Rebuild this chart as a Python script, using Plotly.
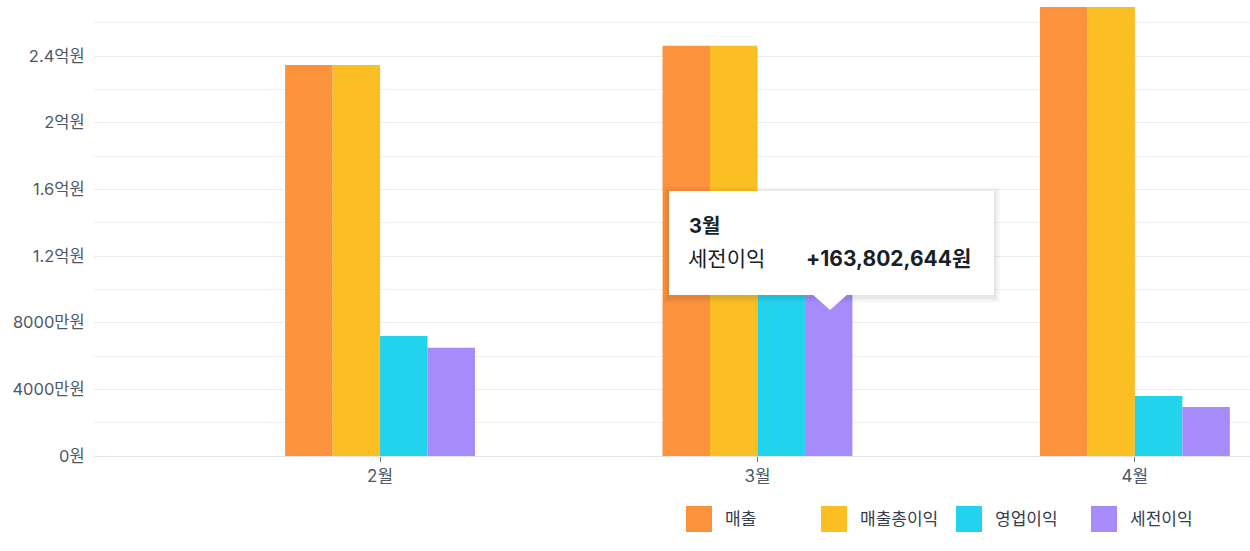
import plotly.graph_objects as go

# ---- data ----
months = ["2월", "3월", "4월"]
series_names = ["매출", "매출총이익", "영업이익", "세전이익"]
sales = [234_600_000, 246_200_000, 269_400_000]
gross_profit = [234_600_000, 246_200_000, 269_400_000]
operating_profit = [72_000_000, 155_000_000, 36_000_000]
pretax_profit = [65_000_000, 150_000_000, 29_400_000]
series_values = [sales, gross_profit, operating_profit, pretax_profit]
colors = ["#FB923C", "#FBBF24", "#22D3EE", "#A78BFA"]
ytick_vals = [0, 40_000_000, 80_000_000, 120_000_000, 160_000_000, 200_000_000, 240_000_000]
ytick_text = ["0원", "4000만원", "8000만원", "1.2억원", "1.6억원", "2억원", "2.4억원"]
tooltip_month = "3월"
tooltip_series = "세전이익"
tooltip_value = 163_802_644

W, H = 1250, 551
ML, MR, MT, MB = 94, 0, 0, 95
PW, PH = W - ML - MR, H - MT - MB


def px(x):
    return (x - ML) / PW


def py(y):
    return (H - MB - y) / PH


FONT = "Inter, Noto Sans CJK KR, Noto Sans, sans-serif"

fig = go.Figure()
for name, vals, col in zip(series_names, series_values, colors):
    fig.add_trace(go.Bar(
        x=months, y=vals, name=name,
        marker=dict(color=col, line=dict(width=0)),
        showlegend=False, hoverinfo="skip",
    ))

shapes = []
annotations = []

# custom legend
for i, (name, col) in enumerate(zip(series_names, colors)):
    x0 = 686 + i * 135
    shapes.append(dict(type="rect", xref="paper", yref="paper",
                       x0=px(x0), x1=px(x0 + 26), y0=py(532), y1=py(506),
                       fillcolor=col, line=dict(width=0), layer="above"))
    annotations.append(dict(xref="paper", yref="paper", x=px(x0 + 37), y=py(519),
                            text=name, showarrow=False, xanchor="left", yanchor="middle",
                            font=dict(family=FONT, size=17, color="#333D4B")))

# tooltip
bx0, bx1, by0, by1 = 669, 994, 191, 295
for k, a in enumerate([0.025, 0.03, 0.04]):
    d = 6 - k * 2
    shapes.append(dict(type="rect", xref="paper", yref="paper",
                       x0=px(bx0 - d), x1=px(bx1 + d), y0=py(by1 + d + 2), y1=py(by0 - d + 2),
                       fillcolor=f"rgba(0,0,0,{a})", line=dict(width=0), layer="above"))
shapes.append(dict(type="rect", xref="paper", yref="paper",
                   x0=px(bx0), x1=px(bx1), y0=py(by1), y1=py(by0),
                   fillcolor="white", line=dict(width=0), layer="above"))
ax0, ax1, atip_x, atip_y = 812, 848, 830, 310
shapes.append(dict(type="path", xref="paper", yref="paper",
                   path=f"M {px(ax0)},{py(by1 - 1)} L {px(ax1)},{py(by1 - 1)} L {px(atip_x)},{py(atip_y)} Z",
                   fillcolor="white", line=dict(width=0), layer="above"))
annotations.append(dict(xref="paper", yref="paper", x=px(687), y=py(226),
                        text=f"<b>{tooltip_month}</b>", showarrow=False,
                        xanchor="left", yanchor="middle",
                        font=dict(family=FONT, size=20, color="#191F28")))
annotations.append(dict(xref="paper", yref="paper", x=px(686), y=py(259),
                        text=tooltip_series, showarrow=False,
                        xanchor="left", yanchor="middle",
                        font=dict(family=FONT, size=21, color="#191F28")))
annotations.append(dict(xref="paper", yref="paper", x=px(973), y=py(259),
                        text=f"<b>+{tooltip_value:,}원</b>", showarrow=False,
                        xanchor="right", yanchor="middle",
                        font=dict(family=FONT, size=21, color="#191F28")))

fig.update_layout(
    width=W, height=H,
    margin=dict(l=ML, r=MR, t=MT, b=MB, pad=0),
    paper_bgcolor="white", plot_bgcolor="white",
    barmode="group", bargap=0.497, bargroupgap=0,
    hovermode=False,
    shapes=shapes, annotations=annotations,
    font=dict(family=FONT),
)
fig.update_xaxes(
    range=[-0.758, 2.305], showgrid=False, zeroline=False,
    showline=False, ticks="outside", ticklen=5, tickwidth=1, tickcolor="#6B7684",
    tickfont=dict(family=FONT, size=17, color="#4E5968"),
)
fig.update_yaxes(
    range=[0, 273_600_000],
    tickvals=ytick_vals, ticktext=ytick_text,
    showgrid=True, gridcolor="#EDEDED", gridwidth=1,
    minor=dict(dtick=20_000_000, showgrid=True, gridcolor="#F0F0F0", gridwidth=1, tick0=0),
    zeroline=True, zerolinecolor="#E5E5E5", zerolinewidth=1,
    showline=False, ticks="outside", ticklen=5, tickcolor="rgba(0,0,0,0)",
    tickfont=dict(family=FONT, size=16.5, color="#4E5968"),
)

fig.write_html("out.html", config={"displayModeBar": False},
               post_script="document.body.style.margin='0';")
